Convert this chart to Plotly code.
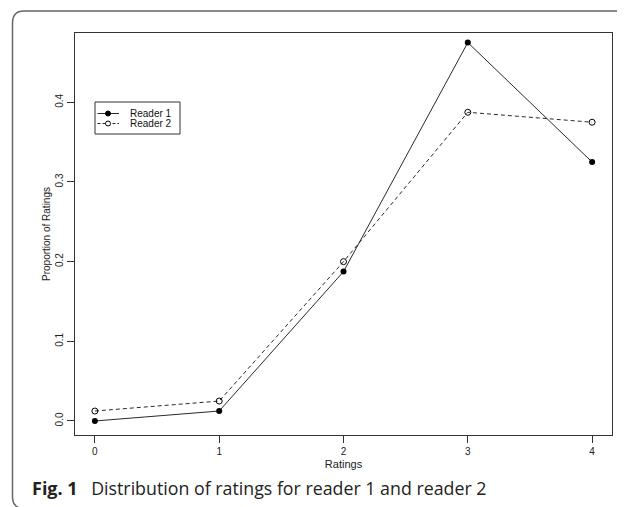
import plotly.graph_objects as go

ratings = [0, 1, 2, 3, 4]
reader1 = [0.0, 0.0125, 0.1875, 0.475, 0.325]
reader2 = [0.0125, 0.025, 0.2, 0.3875, 0.375]
series_names = ["Reader 1", "Reader 2"]
y_ticks = [0.0, 0.1, 0.2, 0.3, 0.4]
y_tick_labels = ["0.0", "0.1", "0.2", "0.3", "0.4"]
x_tick_labels = ["0", "1", "2", "3", "4"]

# The page body has an 8px margin, so the figure is drawn 8px smaller and
# all screen positions are shifted by that offset.
OFF = 8
W, H = 625 - OFF, 507 - OFF
L, R, T, B = 75 - OFF, 13, 33 - OFF, 72
PW, PH = W - L - R, H - T - B


def px(x):
    return (x - OFF - L) / PW


def py(y):
    return (H + OFF - B - y) / PH


LINE_COL = "#2a2a2a"
SANS = "Liberation Sans, Arial, sans-serif"

fig = go.Figure()
fig.add_trace(go.Scatter(
    x=ratings, y=reader1, name=series_names[0], mode="lines+markers",
    line=dict(color=LINE_COL, width=1),
    marker=dict(symbol="circle", size=6, color="black"),
))
fig.add_trace(go.Scatter(
    x=ratings, y=reader2, name=series_names[1], mode="lines+markers",
    line=dict(color=LINE_COL, width=1, dash="4px,3px"),
    marker=dict(symbol="circle-open", size=6, color="black", line=dict(width=1)),
))

axis_font = dict(family=SANS, size=10, color="#222")

fig.update_xaxes(
    range=[-0.16, 4.16], tickvals=ratings, ticktext=x_tick_labels,
    showgrid=False, zeroline=False, showline=True, mirror=True,
    linecolor="#333", linewidth=1, ticks="outside", ticklen=7, tickcolor="#333",
    tickfont=axis_font,
    title=dict(text="Ratings", font=dict(family=SANS, size=11, color="#222"), standoff=4),
)
fig.update_yaxes(
    range=[-0.0176, 0.487], tickvals=y_ticks, ticktext=y_tick_labels,
    showgrid=False, zeroline=False, showline=True, mirror=True,
    linecolor="#333", linewidth=1, ticks="outside", ticklen=7, tickcolor="#333",
    tickfont=axis_font, tickangle=-90,
    title=dict(text="Proportion of Ratings", font=dict(family=SANS, size=10, color="#222"), standoff=1),
)

# outer rounded frame of the figure panel
path = (f"M {px(640)},{py(11)} L {px(24)},{py(11)} Q {px(12.5)},{py(11)} {px(12.5)},{py(23)} "
        f"L {px(12.5)},{py(497)} Q {px(12.5)},{py(506)} {px(20)},{py(508)}")
fig.add_shape(type="path", path=path, xref="paper", yref="paper",
              line=dict(color="#666", width=1.5))

# legend (drawn by hand to get R's compact layout)
fig.add_shape(type="rect", xref="paper", yref="paper",
              x0=px(95), x1=px(180), y0=py(102), y1=py(134),
              line=dict(color="#333", width=1), fillcolor="white", layer="above")
legend_rows = [113.5, 123.5]
for i, name in enumerate(series_names):
    yy = py(legend_rows[i])
    fig.add_shape(type="line", xref="paper", yref="paper",
                  x0=px(97.5), x1=px(119), y0=yy, y1=yy,
                  line=dict(color=LINE_COL, width=1, dash="solid" if i == 0 else "3px,2px"),
                  layer="above")
    fig.add_shape(type="circle", xref="paper", yref="paper",
                  xsizemode="pixel", ysizemode="pixel",
                  xanchor=px(108), yanchor=yy, x0=-2.5, x1=2.5, y0=-2.5, y1=2.5,
                  line=dict(color="black", width=1),
                  fillcolor="black" if i == 0 else "white", layer="above")
    fig.add_annotation(x=px(128), y=yy, xref="paper", yref="paper",
                       xanchor="left", yanchor="middle", showarrow=False,
                       text=name, font=dict(family=SANS, size=10, color="#111"))

fig.add_annotation(
    x=px(30), y=py(488), xref="paper", yref="paper", xanchor="left", yanchor="middle",
    text="<b><span style='font-size:18px'>Fig. 1</span></b>\u2002 Distribution of ratings for reader 1 and reader 2",
    showarrow=False, font=dict(family="Open Sans, sans-serif", size=17.8, color="#222"),
)

fig.update_layout(
    width=W, height=H, margin=dict(l=L, r=R, t=T, b=B),
    paper_bgcolor="white", plot_bgcolor="white",
    showlegend=False,
)

fig.write_html("out.html")
